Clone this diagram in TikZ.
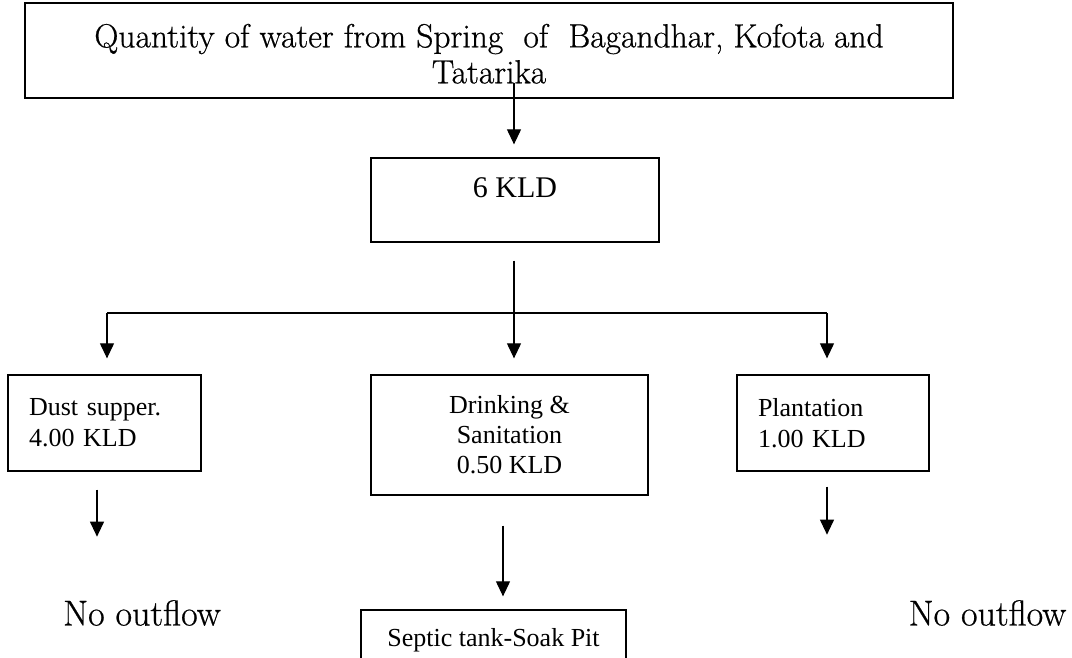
\documentclass[tikz,border=0pt]{standalone}
\usepackage{fontspec}
\newfontfamily\tnr{Liberation Serif}
\newfontfamily\sch{Latin Modern Roman}[FakeBold=0.6]
\usetikzlibrary{arrows.meta,calc,positioning}
\tikzset{
  box/.style={draw, rectangle, line width=1.3pt, inner sep=0pt},
  sidebox/.style={box, minimum width=#1, minimum height=96pt, inner xsep=21pt,
    text width=#1-42pt, align=left, font=\tnr\fontsize{26}{31}\selectfont},
  arr/.style={-{Triangle[length=15pt,width=14pt]}, line width=1.1pt},
  flow/.style={line width=1.1pt}
}
\begin{document}
\begin{tikzpicture}[x=1pt,y=-1pt]
\useasboundingbox (0,0) rectangle (1072,657);
% boxes
\node[box, minimum width=928pt, minimum height=95pt, align=center, text height=66pt,
  font=\sch\fontsize{33.5}{36}\selectfont] (src) at (489,50.5)
  {Quantity of water from Spring\ \ of\ \ Bagandhar, Kofota and\\Tatarika};
\node[box, minimum width=288pt, minimum height=84pt, text depth=24pt,
  font=\tnr\fontsize{30}{34}\selectfont] (kld) at (515,200) {6 KLD};
\node[sidebox=193pt] (dust) at (104.5,423) {Dust supper.\\4.00 KLD};
\node[box, minimum width=277pt, minimum height=120pt, align=center,
  font=\tnr\fontsize{26}{30}\selectfont] (drink) at (509.5,435)
  {Drinking \&\\Sanitation\\0.50 KLD};
\node[sidebox=192pt] (plant) at (833,423) {Plantation\\1.00 KLD};
\node[box, minimum width=265pt, minimum height=60pt,
  font=\tnr\fontsize{26}{30}\selectfont] (septic) at (493.5,640) {Septic tank-Soak Pit};
\node[font=\sch\fontsize{36}{40}\selectfont] (noL) at (142,613) {No outflow};
\node[font=\sch\fontsize{36}{40}\selectfont] (noR) at (987.5,613) {No outflow};
% connectors
\coordinate (fl) at (107,313);
\coordinate (fr) at (827,313);
\draw[arr] ($(src.south -| kld.north)+(-1,-16)$) -- ($(kld.north)+(-1,-13)$);
\draw[arr] ($(kld.south)+(-1,18)$) -- ($(kld.south |- drink.north)+(-1,-16)$);
\draw[flow] (fl) -- (fr);
\draw[arr] (fl) -- ($(fl |- dust.north)+(0,-16)$);
\draw[arr] (fr) -- ($(fr |- plant.north)+(0,-16)$);
\draw[arr] ($(dust.south)+(-7.5,18)$) -- ($(dust.south)+(-7.5,65)$);
\draw[arr] ($(plant.south)+(-6,15)$) -- ($(plant.south)+(-6,63)$);
\draw[arr] ($(drink.south)+(-6.5,30)$) -- ($(septic.north)+(9.5,-13)$);
\end{tikzpicture}
\end{document}
